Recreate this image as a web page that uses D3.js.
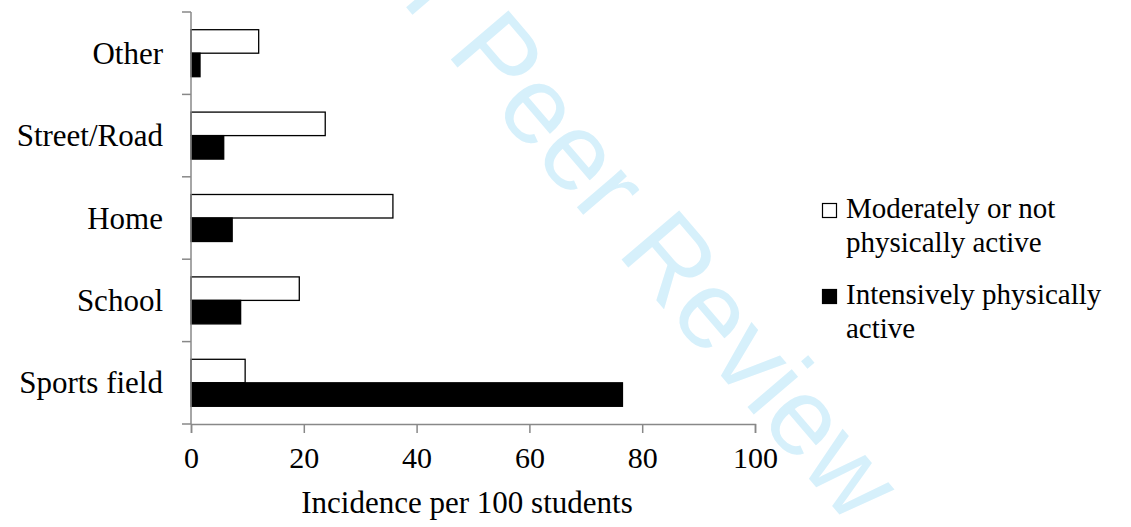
<!DOCTYPE html>
<html>
<head>
<meta charset="utf-8">
<script src="https://cdn.jsdelivr.net/npm/d3@7"></script>
<style>
  html, body { margin: 0; padding: 0; background: #fff; }
  svg { display: block; }
</style>
</head>
<body>
<svg id="chart" width="1131" height="527"></svg>
<script>
const categories = ["Other", "Street/Road", "Home", "School", "Sports field"];
const seriesNames = ["Moderately or not physically active", "Intensively physically active"];
const moderateValues = [12.0, 23.8, 35.8, 19.2, 9.6];
const intensiveValues = [1.6, 5.8, 7.3, 8.8, 76.5];
const xTicks = [0, 20, 40, 60, 80, 100];
const xTitle = "Incidence per 100 students";
const legendLines = [["Moderately or not", "physically active"], ["Intensively physically", "active"]];
const watermark = "For Peer Review";

const SERIF = "Liberation Serif";
const SANS = "Liberation Sans";

const svg = d3.select("#chart");

// watermark
svg.append("text")
  .attr("transform", "translate(318,-96) rotate(49.5)")
  .style("font-family", SANS)
  .attr("font-size", 110)
  .attr("fill", "rgb(214,240,251)")
  .text(watermark);

const x = d3.scaleLinear().domain([0, 100]).range([191, 755]);
const y = d3.scaleBand().domain(categories).range([12, 424]).padding(0);
const ySub = d3.scaleBand().domain([0, 1]).range([0, y.bandwidth()]).paddingInner(0).paddingOuter(0.753);

const seriesValues = [moderateValues, intensiveValues];
const fills = ["#ffffff", "#000000"];
const axisColor = "#888888";

// bars
categories.forEach((c, i) => {
  seriesValues.forEach((vals, s) => {
    svg.append("rect")
      .attr("x", x(0))
      .attr("y", y(c) + ySub(s))
      .attr("width", x(vals[i]) - x(0))
      .attr("height", ySub.bandwidth())
      .attr("fill", fills[s])
      .attr("stroke", "#000")
      .attr("stroke-width", 1.3);
  });
});

// y axis
const yAxisG = svg.append("g").attr("transform", `translate(${x(0)},0)`);
yAxisG.append("line").attr("x1", 0).attr("x2", 0).attr("y1", 12).attr("y2", 424)
  .attr("stroke", axisColor).attr("stroke-width", 1.5);
const yTickPos = categories.map(c => y(c)).concat([y.range()[1]]);
yTickPos.forEach(p => {
  yAxisG.append("line").attr("x1", -9).attr("x2", 0).attr("y1", p).attr("y2", p)
    .attr("stroke", axisColor).attr("stroke-width", 1.5);
});
categories.forEach(c => {
  svg.append("text")
    .attr("x", 163).attr("y", y(c) + y.bandwidth() / 2 + 10.5)
    .attr("text-anchor", "end")
    .style("font-family", SERIF)
    .attr("font-size", 31)
    .attr("fill", "#000")
    .text(c);
});

// x axis
const xAxis = d3.axisBottom(x).tickValues(xTicks).tickSize(9).tickFormat(d3.format("d"));
const xg = svg.append("g").attr("transform", "translate(0,424)").call(xAxis);
xg.attr("font-family", null);
xg.select(".domain").attr("stroke", axisColor).attr("stroke-width", 1.5);
xg.selectAll(".tick line").attr("stroke", axisColor).attr("stroke-width", 1.5);
xg.selectAll(".tick text")
  .style("font-family", SERIF)
  .attr("font-size", 30)
  .attr("fill", "#000")
  .attr("y", 44).attr("dy", 0);

svg.append("text")
  .attr("x", 467).attr("y", 513)
  .attr("text-anchor", "middle")
  .style("font-family", SERIF)
  .attr("font-size", 31)
  .attr("fill", "#000")
  .text(xTitle);

// legend
const legendBase = [218, 304];
legendLines.forEach((lines, s) => {
  const g = svg.append("g");
  g.append("rect")
    .attr("x", 822.5).attr("y", legendBase[s] - 14.5)
    .attr("width", 14).attr("height", 14)
    .attr("fill", fills[s]).attr("stroke", "#000").attr("stroke-width", 1.2);
  lines.forEach((t, k) => {
    g.append("text")
      .attr("x", 846).attr("y", legendBase[s] + k * 34)
      .style("font-family", SERIF)
      .attr("font-size", 29)
      .attr("fill", "#000")
      .text(t);
  });
});
</script>
</body>
</html>
